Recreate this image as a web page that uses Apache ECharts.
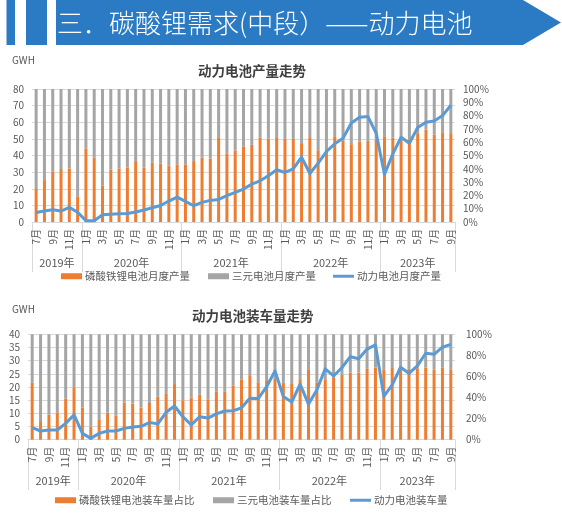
<!DOCTYPE html>
<html><head><meta charset="utf-8">
<script src="https://cdn.jsdelivr.net/npm/echarts@6/dist/echarts.min.js"></script>
<style>html,body{margin:0;padding:0;background:#fff}#c{width:562px;height:514px}</style>
</head><body><div id="c"></div><script>
// ---------- data ----------
const categories = [
 '2019-07','2019-08','2019-09','2019-10','2019-11','2019-12',
 '2020-01','2020-02','2020-03','2020-04','2020-05','2020-06','2020-07','2020-08','2020-09','2020-10','2020-11','2020-12',
 '2021-01','2021-02','2021-03','2021-04','2021-05','2021-06','2021-07','2021-08','2021-09','2021-10','2021-11','2021-12',
 '2022-01','2022-02','2022-03','2022-04','2022-05','2022-06','2022-07','2022-08','2022-09','2022-10','2022-11','2022-12',
 '2023-01','2023-02','2023-03','2023-04','2023-05','2023-06','2023-07','2023-08','2023-09'
];
const yearLabels = {'2019':'2019年','2020':'2020年','2021':'2021年','2022':'2022年','2023':'2023年'};

// Chart 1: production
const prodLFPShare = [24.8,31.5,37.8,39.8,40.3,19.3, 55.3,48.5,27.5,39.3,40.3,41.0,45.8,40.8,44.5,44.0,42.5,43.3,
 43.3,45.8,48.5,47.8,63.8,51.3,53.8,56.8,58.0,63.3,62.8,63.8, 62.5,62.5,59.3,63.8,54.0,54.8,64.5,61.0,58.5,60.5,61.0,62.0,
 64.5,63.5,63.0,61.8,66.8,69.5,65.8,67.5,66.8];
const prodNCMShare = [75.2,68.5,62.2,60.2,59.7,80.7, 44.7,51.5,72.5,60.7,59.7,59.0,54.2,59.2,55.5,56.0,57.5,56.7,
 56.7,54.2,51.5,52.2,36.2,48.7,46.2,43.2,42.0,36.7,37.2,36.2, 37.5,37.5,40.7,36.2,46.0,45.2,35.5,39.0,41.5,39.5,39.0,38.0,
 35.5,36.5,37.0,38.2,33.2,30.5,34.2,32.5,33.2];
const prodTotal = [5.7,6.6,7.4,6.6,8.8,5.9, 0.8,0.8,4.4,4.6,4.9,5.1,6.0,7.2,8.6,9.9,12.6,15.0,
 12.4,9.8,11.8,13.0,13.6,15.8,17.8,19.8,22.8,24.8,27.8,31.4, 29.8,32.0,39.0,29.2,35.4,42.4,47.0,50.4,59.6,63.0,63.4,53.4,
 28.6,41.0,51.0,47.4,56.8,60.0,60.8,64.0,70.2];

// Chart 2: installations
const instLFPShare = [54.0,17.7,23.7,26.0,38.9,49.7, 30.7,12.3,19.4,25.6,23.1,35.1,34.2,30.4,34.8,40.8,44.0,52.8,
 37.4,39.8,42.7,38.3,45.9,45.9,51.2,56.9,60.4,54.5,55.7,57.6, 54.1,53.6,57.4,66.2,54.3,57.4,59.3,61.5,63.7,63.7,67.2,68.5,
 66.2,68.8,67.2,67.2,67.8,68.5,66.6,68.2,66.2];
const instNCMShare = [46.0,82.3,76.3,74.0,61.1,50.3, 69.3,87.7,80.6,74.4,76.9,64.9,65.8,69.6,65.2,59.2,56.0,47.2,
 62.6,60.2,57.3,61.7,54.1,54.1,48.8,43.1,39.6,45.5,44.3,42.4, 45.9,46.4,42.6,33.8,45.7,42.6,40.7,38.5,36.3,36.3,32.8,31.5,
 33.8,31.2,32.8,32.8,32.2,31.5,33.4,31.8,33.8];
const instTotal = [4.6,3.3,3.7,3.7,6.2,9.4, 2.4,0.5,2.4,3.3,3.3,4.3,4.8,5.1,6.5,6.0,10.4,12.8,
 8.7,5.6,8.7,8.2,9.8,10.9,11.0,12.1,15.7,15.6,20.1,26.1, 16.4,14.3,21.1,13.5,18.9,26.9,24.2,27.4,31.5,30.7,34.4,36.0,
 16.4,20.8,27.5,25.2,28.0,32.8,32.4,35.1,36.2];

const names1 = ['磷酸铁锂电池月度产量','三元电池月度产量','动力电池月度产量'];
const names2 = ['磷酸铁锂电池装车量占比','三元电池装车量占比','动力电池装车量'];

// ---------- styles ----------
const FONT = '"Noto Sans CJK SC","Noto Sans",sans-serif';
const TXT = '#595959';
const ORANGE = '#ED7D31', GRAY = '#A5A5A5', BLUE = '#5B9BD5', GRID = '#D9D9D9';

const grids = [
  {left: 32, top: 89, width: 423, height: 133},
  {left: 28, top: 334.3, width: 427, height: 105.4}
];

function xAxisOf(gi, margin) {
  return {
    type: 'category', gridIndex: gi, data: categories, boundaryGap: true,
    axisLine: {lineStyle: {color: GRID}}, axisTick: {show: false},
    axisLabel: {interval: 1, rotate: 90, margin: margin, fontSize: 10, color: TXT, fontFamily: FONT,
      formatter: v => parseInt(v.split('-')[1], 10) + '月'}
  };
}
function yLeft(gi, max, interval, margin) {
  return {type: 'value', gridIndex: gi, min: 0, max: max, interval: interval,
    axisLine: {show: false}, axisTick: {show: false},
    axisLabel: {fontSize: 10, color: TXT, fontFamily: FONT, margin: margin},
    splitLine: {lineStyle: {color: GRID, width: 1}}};
}
function yRight(gi, interval, margin) {
  return {type: 'value', gridIndex: gi, position: 'right', min: 0, max: 100, interval: interval,
    axisLine: {show: false}, axisTick: {show: false}, splitLine: {show: false},
    axisLabel: {fontSize: 10, color: TXT, fontFamily: FONT, margin: margin, formatter: '{value}%'}};
}
function barSeries(name, data, color, xi, yi, stack) {
  return {name, type: 'bar', data, xAxisIndex: xi, yAxisIndex: yi, stack, barWidth: 3,
    itemStyle: {color}, emphasis: {disabled: true}, z: 2};
}
function lineSeries(name, data, xi, yi) {
  return {name, type: 'line', data, xAxisIndex: xi, yAxisIndex: yi, symbol: 'none', smooth: false,
    lineStyle: {color: BLUE, width: 3, join: 'round'}, itemStyle: {color: BLUE}, z: 5};
}
function legendOf(name, left, top, h) {
  return {data: [name], left, top, itemWidth: 21, itemHeight: h, icon: 'rect', itemGap: 0,
    padding: 0, selectedMode: false,
    textStyle: {fontSize: 10.5, color: TXT, fontFamily: FONT, padding: [0, 0, 0, -2]}};
}

const chart = echarts.init(document.getElementById('c'), null, {renderer: 'canvas'});
const option = {
  animation: false,
  textStyle: {fontFamily: FONT},
  title: [
    {text: '动力电池产量走势', left: 193, top: 59, textStyle: {fontSize: 13.5, fontWeight: 'bold', color: '#404040', fontFamily: FONT}},
    {text: '动力电池装车量走势', left: 187, top: 304, textStyle: {fontSize: 13.5, fontWeight: 'bold', color: '#404040', fontFamily: FONT}}
  ],
  grid: grids,
  xAxis: [xAxisOf(0, 7), xAxisOf(1, 7)],
  yAxis: [yLeft(0, 80, 10, 8), yRight(0, 10, 8), yLeft(1, 40, 5, 8), yRight(1, 20, 11)],
  legend: [
    legendOf(names1[0], 61, 271, 6), legendOf(names1[1], 208, 271, 6), legendOf(names1[2], 333, 271, 3),
    legendOf(names2[0], 55, 495, 6), legendOf(names2[1], 213, 495, 6), legendOf(names2[2], 350, 495, 3)
  ],
  series: [
    barSeries(names1[0], prodLFPShare, ORANGE, 0, 1, 's1'),
    barSeries(names1[1], prodNCMShare, GRAY, 0, 1, 's1'),
    lineSeries(names1[2], prodTotal, 0, 0),
    barSeries(names2[0], instLFPShare, ORANGE, 1, 3, 's2'),
    barSeries(names2[1], instNCMShare, GRAY, 1, 3, 's2'),
    lineSeries(names2[2], instTotal, 1, 2)
  ]
};
chart.setOption(option);

// ---------- header + multi-level category labels ----------
const g = [];
g.push({type: 'rect', shape: {x: 6.5, y: 0, width: 8.5, height: 45}, style: {fill: '#2B7BC4'}});
g.push({type: 'rect', shape: {x: 26, y: 0, width: 21, height: 45}, style: {fill: '#2B7BC4'}});
g.push({type: 'polygon', shape: {points: [[56, 0], [523, 0], [561, 22.5], [523, 45], [56, 45]]}, style: {fill: '#2B7BC4'}});
g.push({type: 'text', x: 57, y: 23, style: {text: '三．碳酸锂需求(中段）——动力电池', fill: '#fff',
  font: '300 26px ' + FONT, verticalAlign: 'middle', align: 'left'}});
g.push({type: 'text', x: 12, y: 60, style: {text: 'GWH', fill: TXT, font: '10px ' + FONT, verticalAlign: 'middle'}});
g.push({type: 'text', x: 12, y: 309, style: {text: 'GWH', fill: TXT, font: '10px ' + FONT, verticalAlign: 'middle'}});

function groupDecor(xi, yTop, yBot, yLabel) {
  const px = i => chart.convertToPixel({xAxisIndex: xi}, i);
  const band = px(1) - px(0);
  const groups = [];
  categories.forEach((c, i) => {
    const y = c.split('-')[0];
    if (!groups.length || groups[groups.length - 1].y !== y) groups.push({y, s: i, e: i});
    else groups[groups.length - 1].e = i;
  });
  const edges = [px(0) - band / 2];
  groups.forEach(gr => {
    edges.push(px(gr.e) + band / 2);
    g.push({type: 'text', x: (px(gr.s) + px(gr.e)) / 2, y: yLabel,
      style: {text: yearLabels[gr.y], fill: TXT, font: '11px ' + FONT, align: 'center', verticalAlign: 'middle'}});
  });
  edges.forEach(x => {
    const xx = Math.round(x) + 0.5;
    g.push({type: 'line', shape: {x1: xx, y1: yTop, x2: xx, y2: yBot}, style: {stroke: GRID, lineWidth: 1}});
  });
}
groupDecor(0, 222, 272, 263);
groupDecor(1, 439.7, 490, 481);
chart.setOption({graphic: g});
</script></body></html>
